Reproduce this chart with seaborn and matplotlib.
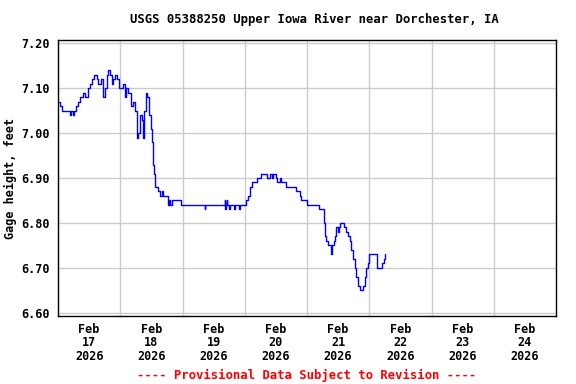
import matplotlib
matplotlib.use("Agg")
import matplotlib.pyplot as plt
import seaborn as sns
import pandas as pd
import numpy as np

# days since Feb 17 2026 00:00
days = [0.005, 0.032, 0.059, 0.193, 0.205, 0.246, 0.262, 0.284, 0.316, 0.353, 0.406, 0.433,
        0.476, 0.487, 0.514, 0.551, 0.583, 0.621, 0.647, 0.685, 0.727, 0.754, 0.781, 0.807,
        0.835, 0.862, 0.888, 0.915, 0.947, 0.979, 1.022, 1.048, 1.075, 1.091, 1.119, 1.156,
        1.172, 1.199, 1.236, 1.263, 1.273, 1.289, 1.316, 1.343, 1.369, 1.385, 1.408, 1.429,
        1.461, 1.488, 1.498, 1.509, 1.520, 1.541, 1.557, 1.600, 1.637, 1.664, 1.680, 1.717,
        1.760, 1.771, 1.787, 1.798, 1.825, 1.947, 1.969, 2.355, 2.362, 2.680, 2.690, 2.700,
        2.710, 2.720, 2.750, 2.757, 2.830, 2.837, 2.910, 2.917, 3.000, 3.018, 3.055, 3.082,
        3.109, 3.189, 3.269, 3.350, 3.365, 3.403, 3.430, 3.456, 3.499, 3.520, 3.563, 3.590,
        3.660, 3.804, 3.820, 3.857, 3.884, 3.910, 4.002, 4.190, 4.270, 4.280, 4.290, 4.310,
        4.340, 4.393, 4.400, 4.430, 4.446, 4.462, 4.490, 4.515, 4.537, 4.590, 4.623, 4.660,
        4.687, 4.714, 4.740, 4.767, 4.794, 4.820, 4.847, 4.900, 4.928, 4.955, 4.980, 4.997,
        5.125, 5.210, 5.230, 5.250]
gage = [7.07, 7.06, 7.05, 7.04, 7.05, 7.04, 7.05, 7.06, 7.07, 7.08, 7.09, 7.08,
        7.08, 7.10, 7.11, 7.12, 7.13, 7.12, 7.11, 7.12, 7.08, 7.10, 7.13, 7.14,
        7.13, 7.11, 7.12, 7.13, 7.12, 7.10, 7.10, 7.11, 7.08, 7.10, 7.09, 7.09,
        7.06, 7.07, 7.05, 7.02, 6.99, 7.00, 7.04, 7.03, 6.99, 7.05, 7.09, 7.08,
        7.04, 7.04, 7.01, 6.98, 6.93, 6.91, 6.88, 6.87, 6.86, 6.87, 6.86, 6.86,
        6.85, 6.84, 6.85, 6.84, 6.85, 6.85, 6.84, 6.83, 6.84, 6.85, 6.83, 6.84,
        6.85, 6.84, 6.83, 6.84, 6.83, 6.84, 6.83, 6.84, 6.84, 6.85, 6.86, 6.88,
        6.89, 6.90, 6.91, 6.91, 6.90, 6.91, 6.90, 6.91, 6.90, 6.89, 6.90, 6.89,
        6.88, 6.88, 6.87, 6.87, 6.86, 6.85, 6.84, 6.83, 6.82, 6.80, 6.77, 6.76,
        6.75, 6.73, 6.75, 6.76, 6.77, 6.79, 6.78, 6.79, 6.80, 6.79, 6.78, 6.77,
        6.76, 6.74, 6.72, 6.70, 6.68, 6.66, 6.65, 6.66, 6.68, 6.70, 6.71, 6.73,
        6.70, 6.71, 6.72, 6.73]

tick_days = ["17", "18", "19", "20", "21", "22", "23", "24"]
y_ticks = [6.60, 6.70, 6.80, 6.90, 7.00, 7.10, 7.20]

df = pd.DataFrame({"day": days, "gage": gage})

sns.set_style("white")
plt.rcParams["font.family"] = ["DejaVu Sans Mono"]
plt.rcParams["font.weight"] = "bold"
plt.rcParams["text.color"] = "black"
plt.rcParams["axes.labelcolor"] = "black"
plt.rcParams["xtick.color"] = "black"
plt.rcParams["ytick.color"] = "black"

fig = plt.figure(figsize=(5.76, 3.84), dpi=100)
ax = fig.add_axes([58/576, 1-316/384, (556-58)/576, (316-40)/384])

sns.lineplot(data=df, x="day", y="gage", ax=ax, color="#0000ff", linewidth=1.0,
             estimator=None, sort=False, drawstyle="steps-post")

ax.set_xlim(0, 8)
ax.set_ylim(6.5933, 7.2067)

ax.set_xticks([i + 0.5 for i in range(8)])
ax.set_xticklabels([f"Feb\n{d}\n2026" for d in tick_days], fontsize=8.5,
                   fontweight="bold", color="black", linespacing=1.05)
ax.set_xticks(range(1, 8), minor=True)
ax.set_yticks(y_ticks)
ax.set_yticklabels([f"{v:.2f}" for v in y_ticks], fontsize=8.5,
                   fontweight="bold", color="black")

ax.grid(False)
ax.grid(True, which="minor", axis="x", color="#cccccc", linewidth=1)
ax.grid(True, which="major", axis="y", color="#cccccc", linewidth=1)
ax.set_axisbelow(True)
ax.tick_params(axis="both", which="both", length=0, pad=6)
ax.tick_params(axis="x", pad=5)
for s in ax.spines.values():
    s.set_color("black")
    s.set_linewidth(1)

ax.set_xlabel("")
ax.set_ylabel("Gage height, feet", fontsize=8.5, fontweight="bold", labelpad=3,
              color="black")

fig.text(314/576, 1-19/384, "USGS 05388250 Upper Iowa River near Dorchester, IA",
         ha="center", va="center", fontsize=8.8, fontweight="bold", color="black")
fig.text(307/576, 1-375/384, "---- Provisional Data Subject to Revision ----",
         ha="center", va="center", fontsize=8.8, fontweight="bold", color="red")

fig.savefig("out.png", dpi=100)
